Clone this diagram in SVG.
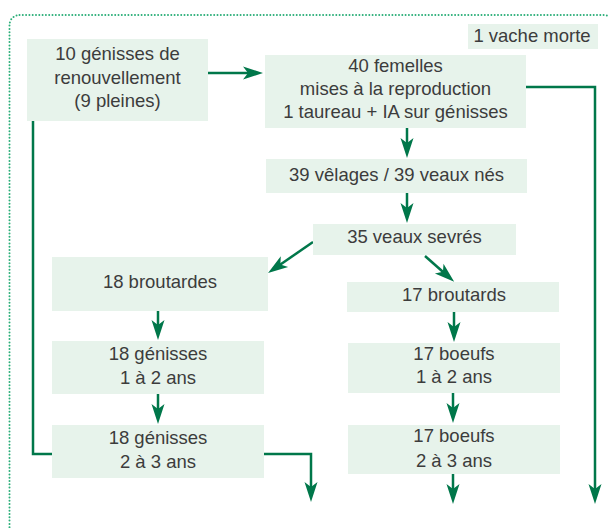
<svg xmlns="http://www.w3.org/2000/svg" width="608" height="528" viewBox="0 0 608 528">
<style>
.box{fill:#e7f3eb;}
.t{font-family:"Liberation Sans",Arial,sans-serif;font-size:18.5px;fill:#3c3c3c;text-anchor:middle;}
.c{fill:none;stroke:#00774a;stroke-width:2.5;}
.a{marker-end:url(#ah);}
</style>
<defs>
<marker id="ah" markerUnits="userSpaceOnUse" viewBox="-13 -7 22 14" refX="0" refY="0" markerWidth="22" markerHeight="14" orient="auto">
<path d="M8,0 L-12,-6.5 L-7,0 L-12,6.5 Z" fill="#00774a"/>
</marker>
</defs>
<rect x="9.5" y="15" width="604" height="525" rx="10" fill="none" stroke="#2aae78" stroke-width="2" stroke-linecap="round" stroke-dasharray="0 3.3"/>
<g id="connectors">
<path class="c a" d="M208,73 L255,73"/>
<path class="c a" d="M526,87 L595,87 L595,496"/>
<path class="c a" d="M407,128 L407,150"/>
<path class="c a" d="M407,193 L407,215"/>
<path class="c a" d="M313,242 L274.6,268.5"/>
<path class="c a" d="M425,256 L448.2,276.5"/>
<path class="c a" d="M158,311 L158,332"/>
<path class="c a" d="M158,394 L158,416"/>
<path class="c a" d="M454,312 L454,334"/>
<path class="c a" d="M453,393 L453,415"/>
<path class="c a" d="M453,474 L453,496"/>
<path class="c" d="M33,121 L33,454 L52,454"/>
<path class="c a" d="M264,454 L311,454 L311,494"/>
</g>
<g id="n1"><rect class="box" x="27" y="39" width="181" height="82"/>
<text class="t" x="117.5" y="60">10 génisses de</text>
<text class="t" x="117.5" y="83.5">renouvellement</text>
<text class="t" x="117.5" y="107">(9 pleines)</text></g>
<g id="n2"><rect class="box" x="265" y="55" width="261" height="73"/>
<text class="t" x="395.5" y="72">40 femelles</text>
<text class="t" x="395.5" y="95">mises à la reproduction</text>
<text class="t" x="395.5" y="118">1 taureau + IA sur génisses</text></g>
<g id="n3"><rect class="box" x="468" y="24" width="130" height="25"/>
<text class="t" x="532" y="42">1 vache morte</text></g>
<g id="n4"><rect class="box" x="266" y="159" width="261" height="34"/>
<text class="t" x="396.5" y="181">39 vêlages / 39 veaux nés</text></g>
<g id="n5"><rect class="box" x="313" y="224" width="203" height="31"/>
<text class="t" x="414.5" y="243">35 veaux sevrés</text></g>
<g id="n6"><rect class="box" x="52" y="257" width="216" height="54"/>
<text class="t" x="160" y="288">18 broutardes</text></g>
<g id="n7"><rect class="box" x="347" y="282" width="212" height="30"/>
<text class="t" x="454" y="301">17 broutards</text></g>
<g id="n8"><rect class="box" x="52" y="341" width="212" height="53"/>
<text class="t" x="158" y="360">18 génisses</text>
<text class="t" x="158" y="384">1 à 2 ans</text></g>
<g id="n9"><rect class="box" x="52" y="425" width="212" height="53"/>
<text class="t" x="158" y="444">18 génisses</text>
<text class="t" x="158" y="468">2 à 3 ans</text></g>
<g id="n10"><rect class="box" x="348" y="343" width="212" height="50"/>
<text class="t" x="454" y="360">17 boeufs</text>
<text class="t" x="454" y="383">1 à 2 ans</text></g>
<g id="n11"><rect class="box" x="348" y="425" width="212" height="49"/>
<text class="t" x="454" y="442">17 boeufs</text>
<text class="t" x="454" y="467">2 à 3 ans</text></g>
</svg>
